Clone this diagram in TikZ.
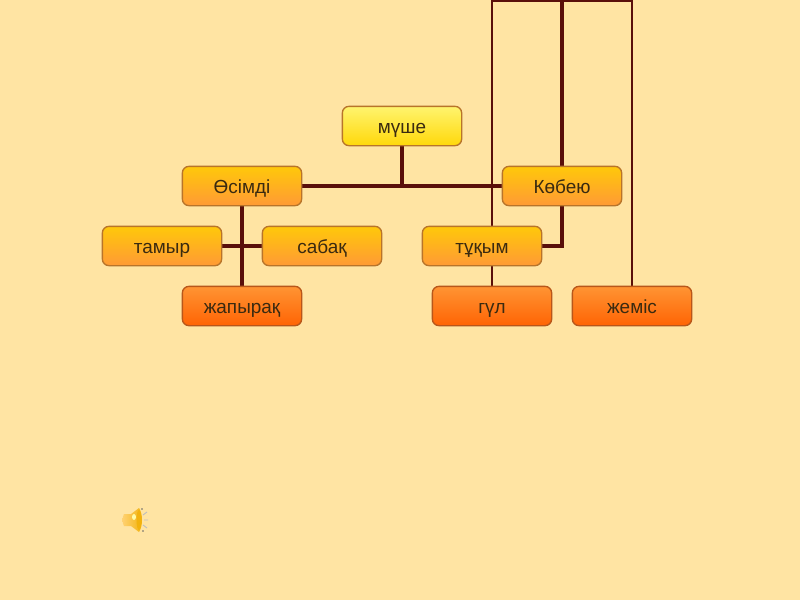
\documentclass[tikz,border=0pt]{standalone}
\usepackage{fontspec}
\setmainfont{Liberation Sans}
\usetikzlibrary{backgrounds}
\definecolor{bg}{HTML}{FFE4A3}
\definecolor{wire}{HTML}{5A0F0A}
\definecolor{ink}{HTML}{3A2A10}
\definecolor{edge}{HTML}{B8742A}
\definecolor{edgelow}{HTML}{B8561A}
\tikzset{
  x=0.75pt,y=-0.75pt,
  boxbase/.style={draw,line width=1pt,rounded corners=5pt,minimum width=89.5pt,minimum height=29.5pt,
     inner sep=0pt,text=ink,text height=12.5pt,text depth=2pt,font=\fontsize{14.2pt}{15pt}\selectfont},
  toptier/.style={boxbase,draw=edge,top color=ffftop,bottom color=fffbot},
  midtier/.style={boxbase,draw=edge,top color=midtop,bottom color=midbot},
  lowtier/.style={boxbase,draw=edgelow,top color=lowtop,bottom color=lowbot},
  wirethick/.style={draw=wire,line width=2.26pt},
  wirethin/.style={draw=wire,line width=2.15pt},
}
\definecolor{ffftop}{HTML}{FFF46E}
\definecolor{fffbot}{HTML}{FFD80A}
\definecolor{midtop}{HTML}{FFC80A}
\definecolor{midbot}{HTML}{FF9A35}
\definecolor{lowtop}{HTML}{FF9433}
\definecolor{lowbot}{HTML}{FF6404}
\begin{document}
\begin{tikzpicture}
\useasboundingbox (0,0) rectangle (800,600);
\clip (0,0) rectangle (800,600);
\node[toptier] (mushe) at (402,126) {мүше};
\node[midtier] (osimdi) at (242,186) {Өсімді};
\node[midtier] (kobeyu) at (562,186) {Көбею};
\node[midtier] (tamyr) at (162,246) {тамыр};
\node[midtier] (sabak) at (322,246) {сабақ};
\node[midtier] (tukym) at (482,246) {тұқым};
\node[lowtier] (zhapyrak) at (242,306) {жапырақ};
\node[lowtier] (gul) at (492,306) {гүл};
\node[lowtier] (zhemis) at (632,306) {жеміс};
\coordinate (busL) at (492,0.5);
\coordinate (busM) at (562,0.5);
\coordinate (busR) at (632,0.5);
\coordinate (join) at (402,186);
\begin{scope}[on background layer]
\fill[bg] (0,0) rectangle (800,600);
\draw[wirethick] (osimdi.east) -- (kobeyu.west);
\draw[wirethick] (mushe.south) -- (join);
\draw[wirethick] (osimdi.south) -- (zhapyrak.north);
\draw[wirethick] (tamyr.east) -- (sabak.west);
\draw[wirethick] (kobeyu.north) -- (busM);
\draw[wirethick] (kobeyu.south) |- (tukym.east);
\draw[wirethin] (gul.north) -- (busL) -- (busR) -- (zhemis.north);
\end{scope}
% speaker icon
\shade[left color=yellow!35!orange!55!white,right color=orange!50!yellow!80!brown,draw=none]
  (124,514) -- (131,514) -- (139,508) .. controls (143,514) and (143,526) .. (139,532) -- (131,526) -- (124,526) .. controls (122,522) and (122,518) .. (124,514) -- cycle;
\fill[orange!50!yellow!80!brown] (139,520) ellipse (2.5 and 10);
\fill[yellow!35!white] (134,517) ellipse (2 and 3);
\draw[gray!50,line width=0.7pt] (143,515) -- (147,512) (144,520) -- (148,520) (143,525) -- (147,528);
\fill[black!60] (142,509) circle (0.8) (143,531) circle (0.8);
\end{tikzpicture}
\end{document}
